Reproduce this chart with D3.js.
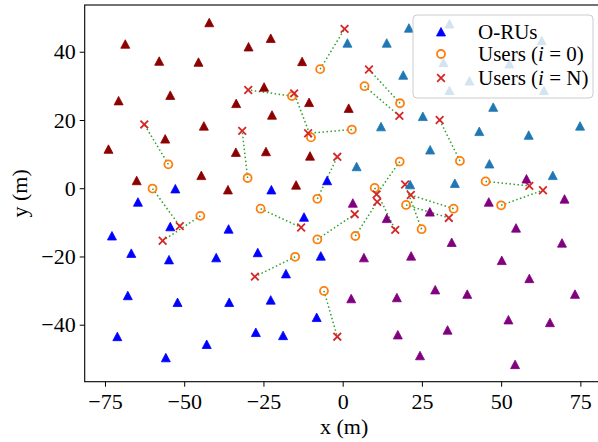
<!DOCTYPE html>
<html>
<head>
<meta charset="UTF-8">
<title>O-RU and user positions</title>
<script src="https://d3js.org/d3.v7.min.js"></script>
<style>
    body { margin: 0; background: #fff; }
    text { font-family: "Liberation Serif", "Times New Roman", serif; fill: #000; }
    .tick text { font-size: 22px; }
    .axis-label { font-size: 22px; text-anchor: middle; }
    .legend-text { font-size: 21px; }
</style>
</head>
<body>
<script>
    // O-RU positions, one array per colour group, [x, y] in metres
    const oruDarkRed = [[-42.1, 48.5], [-68.6, 42.2], [-29.7, 41.4], [-57.9, 37.2], [-45.5, 36.9], [-54.4, 27.2],
        [-70.7, 25.6], [-33.6, 24.8], [-43.8, 18.2], [-22.7, 43.9], [-12.8, 37.1], [-24.8, 29.6],
        [-10.6, 25.1], [-22.3, 21.4], [1.9, 23.4], [-56.0, 14.4], [-73.9, 11.4], [-33.7, 10.5],
        [-44.6, 3.7], [-65.0, 2.2], [-36.2, -0.5], [-24.2, 10.7], [-10.3, 9.4], [-14.7, 0.9]];
    const oruBlue = [[-52.8, -0.2], [-64.6, -4.1], [-54.4, -11.3], [-36.0, -12.0], [-72.8, -14.0], [-4.9, 2.2],
        [-22.5, -0.5], [-12.2, -8.5], [-66.7, -19.1], [-54.8, -21.0], [-39.9, -20.4], [-26.8, -18.9],
        [-67.8, -31.5], [-52.1, -33.5], [-35.8, -33.5], [-71.1, -43.5], [-27.4, -42.3], [-42.9, -45.8],
        [-55.8, -49.7], [-6.9, -19.9], [-17.9, -25.1], [-22.7, -32.8], [-8.2, -37.9], [-18.8, -43.2]];
    const oruSteel = [[1.5, 42.5], [13.9, 42.5], [20.9, 46.9], [19.1, 33.1], [12.1, 18.0], [25.3, 21.0],
        [33.7, 48.1], [62.8, 43.2], [52.6, 36.4], [31.8, 36.8], [40.0, 31.4], [33.7, 28.6],
        [63.5, 28.6], [47.5, 23.7], [74.9, 18.2], [43.1, 16.6], [58.7, 15.5], [27.6, 11.2],
        [46.3, 7.1], [66.3, 3.7], [35.4, 1.4], [21.3, 1.0], [4.4, 6.3]];
    const oruPurple = [[3.2, -4.4], [13.9, -8.9], [58.0, 2.7], [70.0, -3.2], [46.1, -4.1], [27.5, -7.0],
        [54.7, -11.7], [34.4, -15.9], [69.2, -16.1], [6.7, -20.4], [21.6, -19.9], [2.7, -32.4],
        [17.1, -32.1], [17.4, -43.0], [24.4, -49.1], [50.2, -21.2], [58.9, -26.5], [29.2, -29.8],
        [39.3, -31.1], [73.3, -31.1], [52.3, -38.6], [65.4, -39.4], [33.1, -41.6], [54.4, -51.7]];

    // users at i = 0 and i = N, same index = same user
    const usersStart = [[-7.1, 34.9], [6.9, 29.9], [18.1, 24.9], [-16.0, 27.0], [2.9, 17.2], [-10.0, 14.9],
        [-55.0, 7.0], [-30.0, 3.0], [-60.0, -0.1], [-44.9, -8.1], [-25.9, -6.0], [-8.0, -3.1],
        [18.0, 7.8], [10.1, 0.1], [20.0, -4.9], [24.9, -12.0], [37.0, 8.0], [45.1, 2.0],
        [50.0, -5.0], [35.0, -6.0], [-8.0, -15.0], [4.0, -14.0], [-15.0, -20.1], [-5.9, -30.1]];
    const usersEnd = [[0.6, 46.7], [17.9, 21.2], [8.3, 34.8], [-29.8, 28.8], [-10.9, 16.1], [-15.3, 27.8],
        [-62.6, 18.7], [-31.7, 16.8], [-51.4, -11.1], [-56.8, -15.4], [-13.1, -11.5], [-1.7, 9.2],
        [10.7, -1.8], [16.6, -12.2], [33.5, -8.7], [19.7, 1.1], [30.6, 20.0], [58.9, 0.7],
        [63.2, -0.6], [21.5, -2.0], [3.8, -7.6], [10.9, -4.0], [-27.7, -25.9], [-1.7, -43.5]];

    const xTicks = [-75, -50, -25, 0, 25, 50, 75];
    const yTicks = [-40, -20, 0, 20, 40];

    const width = 598;
    const height = 442;
    const plotLeft = 84.7, plotRight = 603.5, plotTop = 5, plotBottom = 381.7;

    const svg = d3.select('body').append('svg')
        .attr('width', width)
        .attr('height', height);

    const x = d3.scaleLinear().domain([-81.4, 82.3]).range([plotLeft, plotRight]);
    const y = d3.scaleLinear().domain([-56.7, 53.7]).range([plotBottom, plotTop]);

    // axes
    const fmt = d => d < 0 ? '\u2212' + Math.abs(d) : String(d);

    const xAxis = svg.append('g')
        .attr('transform', `translate(0,${plotBottom})`)
        .call(d3.axisBottom(x).tickValues(xTicks).tickFormat(fmt).tickSize(5).tickPadding(7));
    xAxis.select('.domain').remove();

    const yAxis = svg.append('g')
        .attr('transform', `translate(${plotLeft},0)`)
        .call(d3.axisLeft(y).tickValues(yTicks).tickFormat(fmt).tickSize(5).tickPadding(4));
    yAxis.select('.domain').remove();

    svg.selectAll('.tick line').attr('stroke', '#000').attr('stroke-width', 1);

    svg.append('text')
        .attr('class', 'axis-label')
        .attr('x', (plotLeft + plotRight) / 2)
        .attr('y', 434)
        .text('x (m)');

    svg.append('text')
        .attr('class', 'axis-label')
        .attr('transform', `translate(27,${(plotTop + plotBottom) / 2}) rotate(-90)`)
        .text('y (m)');

    const plot = svg.append('g');

    // movement lines
    plot.selectAll('.move')
        .data(usersStart)
        .join('line')
        .attr('class', 'move')
        .attr('x1', d => x(d[0]))
        .attr('y1', d => y(d[1]))
        .attr('x2', (d, i) => x(usersEnd[i][0]))
        .attr('y2', (d, i) => y(usersEnd[i][1]))
        .attr('stroke', '#2ca02c')
        .attr('stroke-width', 1.5)
        .attr('stroke-dasharray', '1.5,2.5');

    plot.selectAll('.u0')
        .data(usersStart)
        .join('circle')
        .attr('class', 'u0')
        .attr('cx', d => x(d[0]))
        .attr('cy', d => y(d[1]))
        .attr('r', 4)
        .attr('fill', 'none')
        .attr('stroke', '#ff7f0e')
        .attr('stroke-width', 1.8);

    const cross = d3.symbol().type(d3.symbolX).size(40);
    plot.selectAll('.uN')
        .data(usersEnd)
        .join('path')
        .attr('class', 'uN')
        .attr('transform', d => `translate(${x(d[0])},${y(d[1])})`)
        .attr('d', cross)
        .attr('fill', 'none')
        .attr('stroke', '#d62728')
        .attr('stroke-width', 1.8);

    // triangle marker centred on its bounding box
    const tri = 'M0,-4.5L4.5,4L-4.5,4Z';
    const groups = [
        { pts: oruDarkRed, color: '#8b0000' },
        { pts: oruBlue, color: '#0000ff' },
        { pts: oruSteel, color: '#1f77b4' },
        { pts: oruPurple, color: '#800080' }
    ];
    groups.forEach(g => {
        plot.append('g').selectAll('path')
            .data(g.pts)
            .join('path')
            .attr('transform', d => `translate(${x(d[0])},${y(d[1])})`)
            .attr('d', tri)
            .attr('fill', g.color)
            .attr('stroke', g.color)
            .attr('stroke-width', 0.8);
    });

    // frame
    svg.append('rect')
        .attr('x', plotLeft)
        .attr('y', plotTop)
        .attr('width', plotRight - plotLeft)
        .attr('height', plotBottom - plotTop)
        .attr('fill', 'none')
        .attr('stroke', '#000')
        .attr('stroke-width', 1.1);

    // legend
    const legend = svg.append('g');
    legend.append('rect')
        .attr('x', 413).attr('y', 15)
        .attr('width', 180).attr('height', 83)
        .attr('rx', 4)
        .attr('fill', '#fff').attr('fill-opacity', 0.8)
        .attr('stroke', '#cccccc').attr('stroke-width', 1);

    const lx = 441, lt = 478;
    legend.append('path')
        .attr('transform', 'translate(' + lx + ',32)')
        .attr('d', tri).attr('fill', '#0000ff').attr('stroke', '#0000ff').attr('stroke-width', 0.8);
    legend.append('circle')
        .attr('cx', lx).attr('cy', 54).attr('r', 4)
        .attr('fill', 'none').attr('stroke', '#ff7f0e').attr('stroke-width', 1.8);
    legend.append('path')
        .attr('transform', 'translate(' + lx + ',78)')
        .attr('d', cross).attr('fill', 'none').attr('stroke', '#d62728').attr('stroke-width', 1.8);

    legend.append('text').attr('class', 'legend-text')
        .attr('x', lt).attr('y', 39).text('O-RUs');
    const t1 = legend.append('text').attr('class', 'legend-text').attr('x', lt).attr('y', 61);
    t1.append('tspan').text('Users (');
    t1.append('tspan').style('font-style', 'italic').text('i');
    t1.append('tspan').text(' = 0)');
    const t2 = legend.append('text').attr('class', 'legend-text').attr('x', lt).attr('y', 85);
    t2.append('tspan').text('Users (');
    t2.append('tspan').style('font-style', 'italic').text('i');
    t2.append('tspan').text(' = N)');
</script>
</body>
</html>
